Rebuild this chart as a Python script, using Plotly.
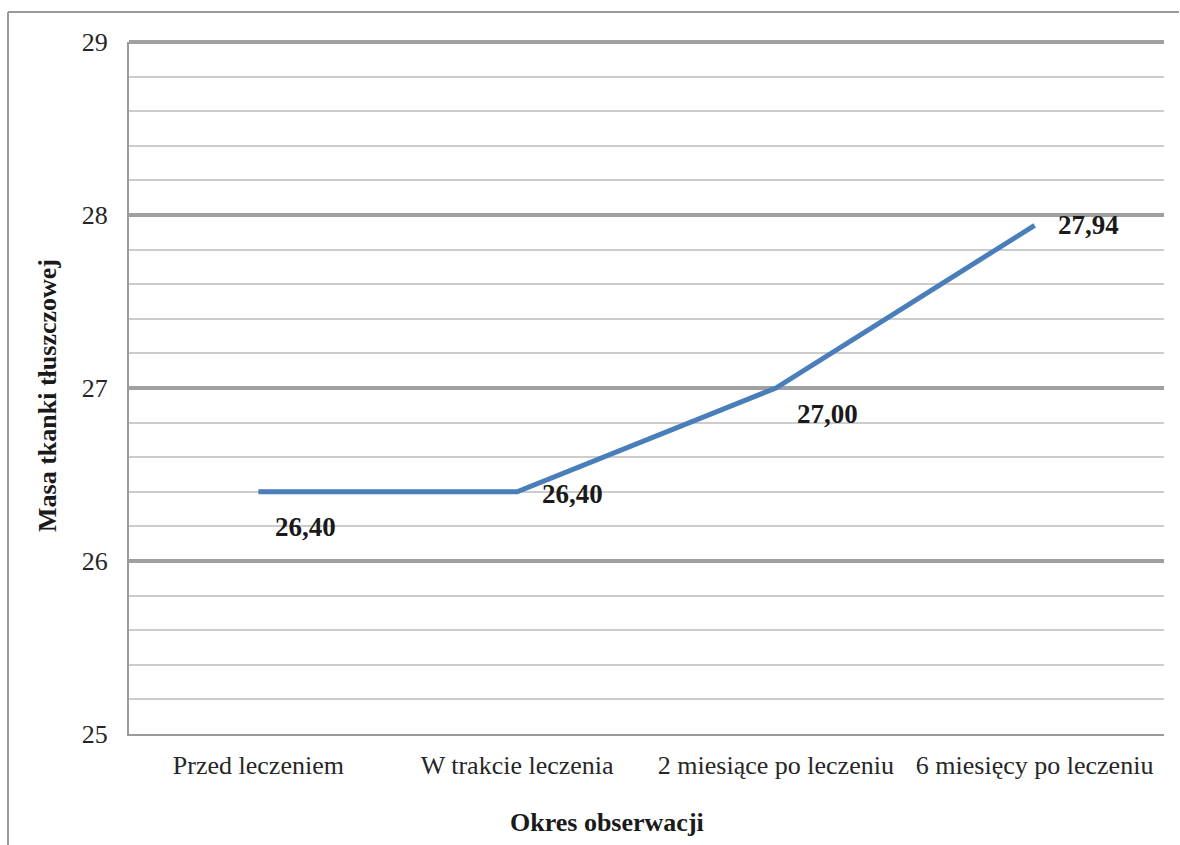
import plotly.graph_objects as go

# Observation periods and mean fat mass values
periods = ["Przed leczeniem", "W trakcie leczenia", "2 miesiące po leczeniu", "6 miesięcy po leczeniu"]
fat_mass = [26.40, 26.40, 27.00, 27.94]
value_labels = ["26,40", "26,40", "27,00", "27,94"]
y_ticks = [25, 26, 27, 28, 29]

# pixel offsets of each value label relative to its point
label_dx = [47, 55, 52, 54]
label_dy = [-35, -2, -26, 0]

W, H = 1180, 845
ML, MR, MT, MB = 129, 16, 42, 111
PW, PH = W - ML - MR, H - MT - MB


def px(xp):
    return (xp - ML) / PW


def py(yp):
    return (H - MB - yp) / PH


SERIF = "Liberation Serif, Times New Roman, serif"
MAJOR_GRID = "#a0a0a0"

fig = go.Figure()
fig.add_trace(go.Scatter(
    x=periods, y=fat_mass, mode="lines",
    line=dict(color="#4a7ebb", width=5),
    hoverinfo="skip", showlegend=False,
))

annotations = []
for cat, val, txt, dx, dy in zip(periods, fat_mass, value_labels, label_dx, label_dy):
    annotations.append(dict(
        x=cat, y=val, xref="x", yref="y", text="<b>" + txt + "</b>",
        showarrow=False, xanchor="center", yanchor="middle",
        xshift=dx, yshift=dy,
        font=dict(family=SERIF, size=27, color="#1a1a1a"),
    ))

annotations.append(dict(
    x=px(607), y=py(822), xref="paper", yref="paper",
    text="<b>Okres obserwacji</b>", showarrow=False,
    xanchor="center", yanchor="middle",
    font=dict(family=SERIF, size=26, color="#1a1a1a"),
))
annotations.append(dict(
    x=px(47), y=py(396), xref="paper", yref="paper",
    text="<b>Masa tkanki tłuszczowej</b>", showarrow=False, textangle=-90,
    xanchor="center", yanchor="middle",
    font=dict(family=SERIF, size=26, color="#1a1a1a"),
))

shapes = [
    # top major gridline at the upper end of the y range (plotly drops it)
    dict(type="line", xref="paper", yref="paper", x0=0, x1=1, y0=1, y1=1,
         line=dict(color=MAJOR_GRID, width=4), layer="below"),
    # outer frame (left and top edges)
    dict(type="line", xref="paper", yref="paper", x0=px(8), x1=px(8), y0=py(12), y1=py(H + 5),
         line=dict(color="#9a9a9a", width=2)),
    dict(type="line", xref="paper", yref="paper", x0=px(8), x1=px(1179), y0=py(12), y1=py(12),
         line=dict(color="#9a9a9a", width=2)),
]

fig.update_layout(
    width=W, height=H,
    margin=dict(l=ML, r=MR, t=MT, b=MB),
    paper_bgcolor="white", plot_bgcolor="white",
    annotations=annotations, shapes=shapes,
    font=dict(family=SERIF, size=26, color="#262626"),
    xaxis=dict(
        type="category", range=[-0.5, 3.5],
        showgrid=False, zeroline=False,
        showline=True, linecolor="#9a9a9a", linewidth=2,
        ticks="", ticklabelstandoff=7,
        tickfont=dict(family=SERIF, size=26, color="#262626"),
    ),
    yaxis=dict(
        range=[25, 29], tickvals=y_ticks, ticktext=[str(v) for v in y_ticks],
        showgrid=True, gridcolor=MAJOR_GRID, gridwidth=4,
        zeroline=False,
        showline=True, linecolor="#9a9a9a", linewidth=2,
        ticks="", ticklabelstandoff=14,
        tickfont=dict(family=SERIF, size=26, color="#262626"),
        minor=dict(dtick=0.2, tick0=25, showgrid=True, gridcolor="#cccccc", gridwidth=2),
    ),
)

fig.write_html("out.html")
